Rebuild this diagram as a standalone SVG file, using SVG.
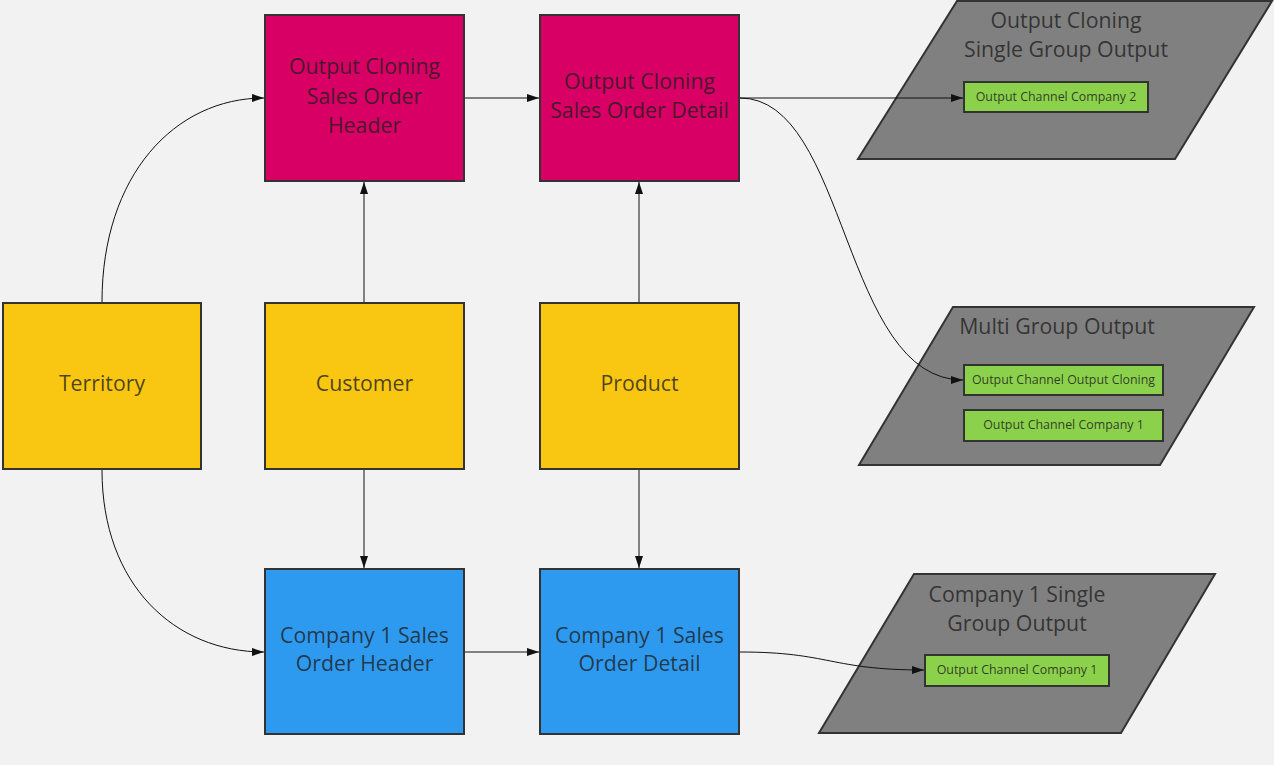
<svg xmlns="http://www.w3.org/2000/svg" width="1274" height="765" viewBox="0 0 1274 765">
<defs>
<marker id="arr" viewBox="0 0 12 8" refX="12" refY="4" markerWidth="12" markerHeight="8" markerUnits="userSpaceOnUse" orient="auto">
<path d="M0,0 L12,4 L0,8 Z" fill="#111"/>
</marker>
<style>
.box{stroke:#333;stroke-width:2}
.mag{fill:#D80064}
.yel{fill:#F9C712}
.blu{fill:#2E9AEF}
.par{fill:#808080;stroke:#333;stroke-width:2}
.grn{fill:#8BD14B;stroke:#333;stroke-width:2}
.t{font-family:"Open Sans","Liberation Sans",sans-serif;font-size:21.3px;fill:#1f1f1f;fill-opacity:0.8;text-anchor:middle}
.ts{font-family:"Open Sans","Liberation Sans",sans-serif;font-size:12.4px;fill:#1f1f1f;fill-opacity:0.85;text-anchor:middle}
.c{fill:none;stroke:#111;stroke-width:1;marker-end:url(#arr)}
</style>
</defs>
<rect width="1274" height="765" fill="#F2F2F2"/>

<g id="oc-single">
<polygon class="par" points="957,1 1272,1 1175,159 858,159"/>
<text class="t" x="1066" y="28">Output Cloning</text>
<text class="t" x="1066" y="57">Single Group Output</text>
<rect class="grn" x="964" y="82" width="184" height="30"/>
<text class="ts" x="1056" y="101">Output Channel Company 2</text>
</g>

<g id="multi-group">
<polygon class="par" points="953,307 1254,307 1160,465 859,465"/>
<text class="t" x="1057" y="334">Multi Group Output</text>
<rect class="grn" x="964" y="365" width="199" height="30"/>
<text class="ts" x="1063.5" y="384">Output Channel Output Cloning</text>
<rect class="grn" x="964" y="410" width="199" height="31"/>
<text class="ts" x="1063.5" y="429">Output Channel Company 1</text>
</g>

<g id="c1-single">
<polygon class="par" points="914,574 1215,574 1121,733 819,733"/>
<text class="t" x="1017" y="602">Company 1 Single</text>
<text class="t" x="1017" y="631">Group Output</text>
<rect class="grn" x="925" y="655" width="184" height="31"/>
<text class="ts" x="1017" y="674">Output Channel Company 1</text>
</g>

<g id="oc-header">
<rect class="box mag" x="265" y="15" width="199" height="166"/>
<text class="t" x="364.5" y="74">Output Cloning</text>
<text class="t" x="364.5" y="104">Sales Order</text>
<text class="t" x="364.5" y="133">Header</text>
</g>

<g id="oc-detail">
<rect class="box mag" x="540" y="15" width="199" height="166"/>
<text class="t" x="639.5" y="89">Output Cloning</text>
<text class="t" x="639.5" y="118">Sales Order Detail</text>
</g>

<g id="territory">
<rect class="box yel" x="3" y="303" width="198" height="166"/>
<text class="t" x="102" y="391">Territory</text>
</g>

<g id="customer">
<rect class="box yel" x="265" y="303" width="199" height="166"/>
<text class="t" x="364.5" y="391">Customer</text>
</g>

<g id="product">
<rect class="box yel" x="540" y="303" width="199" height="166"/>
<text class="t" x="639.5" y="391">Product</text>
</g>

<g id="c1-header">
<rect class="box blu" x="265" y="569" width="199" height="165"/>
<text class="t" x="364.5" y="643">Company 1 Sales</text>
<text class="t" x="364.5" y="671">Order Header</text>
</g>

<g id="c1-detail">
<rect class="box blu" x="540" y="569" width="199" height="165"/>
<text class="t" x="639.5" y="643">Company 1 Sales</text>
<text class="t" x="639.5" y="671">Order Detail</text>
</g>

<g id="connectors">
<path class="c" d="M102,302 C102,175 175,98 264,98"/>
<path class="c" d="M102,470 C102,585 175,652 264,652"/>
<path class="c" d="M364,302 L364,182"/>
<path class="c" d="M364,470 L364,568"/>
<path class="c" d="M639,302 L639,182"/>
<path class="c" d="M639,470 L639,568"/>
<path class="c" d="M465,98 L539,98"/>
<path class="c" d="M465,652 L539,652"/>
<path class="c" d="M740,98 L963,98"/>
<path class="c" d="M740,98 C848,98 842,380 963,380"/>
<path class="c" d="M740,652 C830,652 830,670 924,670"/>
</g>
</svg>
